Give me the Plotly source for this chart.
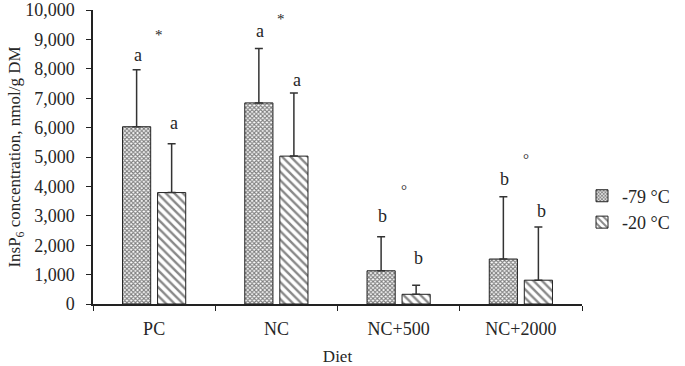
import plotly.graph_objects as go

diets = ["PC", "NC", "NC+500", "NC+2000"]
mean_m79 = [6030, 6840, 1130, 1530]
sd_m79 = [1940, 1850, 1160, 2120]
mean_m20 = [3790, 5030, 330, 810]
sd_m20 = [1660, 2150, 310, 1810]
letters_m79 = ["a", "a", "b", "b"]
letters_m20 = ["a", "a", "b", "b"]
letter_y_m79 = [8480, 9270, 3000, 4250]
letter_y_m20 = [6170, 7630, 1580, 3180]
marks = ["*", "*", "°", "°"]
mark_y = [9160, 9700, 3880, 4940]

FONT = "Liberation Serif"
TXT = "#262626"

fig = go.Figure()
fig.add_trace(go.Bar(
    name="-79 °C", x=diets, y=mean_m79, legendgroup="a",
    marker=dict(color="white", line=dict(color="#222", width=1),
                pattern=dict(shape="x", size=3, solidity=0.6, fgcolor="#000", bgcolor="white", fillmode="overlay")),
    error_y=dict(type="data", array=sd_m79, arrayminus=[0]*4, symmetric=False, color="#333", thickness=1.5, width=4),
))
fig.add_trace(go.Bar(
    name="-20 °C", x=diets, y=mean_m20, legendgroup="b",
    marker=dict(color="white", line=dict(color="#222", width=1),
                pattern=dict(shape="\\", size=6, solidity=0.4, fgcolor="#111", bgcolor="white", fillmode="overlay")),
    error_y=dict(type="data", array=sd_m20, arrayminus=[0]*4, symmetric=False, color="#333", thickness=1.5, width=4),
))

ann = []
for i in range(4):
    ann.append(dict(x=i - 0.135, y=letter_y_m79[i], text=letters_m79[i], xref="x", yref="y",
                    showarrow=False, font=dict(family=FONT, size=18, color=TXT)))
    ann.append(dict(x=i + 0.165, y=letter_y_m20[i], text=letters_m20[i], xref="x", yref="y",
                    showarrow=False, font=dict(family=FONT, size=18, color=TXT)))
    ann.append(dict(x=i + 0.04, y=mark_y[i], text=marks[i], xref="x", yref="y",
                    showarrow=False, font=dict(family=FONT, size=15, color=TXT)))

fig.update_layout(
    width=685, height=366,
    margin=dict(l=93, r=93, t=10, b=62),
    paper_bgcolor="white", plot_bgcolor="white",
    barmode="group", bargap=0.427, bargroupgap=0.196,
    font=dict(family=FONT, size=18, color=TXT),
    showlegend=True,
    legend=dict(x=1.0, y=0.323, xanchor="left", yanchor="middle", font=dict(family=FONT, size=18, color=TXT),
                bgcolor="rgba(0,0,0,0)", tracegroupgap=0),
    annotations=ann,
    xaxis=dict(title=dict(text="Diet", font=dict(family=FONT, size=17, color=TXT), standoff=17),
               showline=True, linecolor="#222", linewidth=1.5, ticks="outside", tickson="boundaries",
               ticklen=5, tickcolor="#222", showgrid=False, automargin=False, ticklabelstandoff=8,
               tickfont=dict(family=FONT, size=18, color=TXT)),
    yaxis=dict(title=dict(text="InsP<sub>6</sub> concentration, nmol/g DM", font=dict(family=FONT, size=17, color=TXT), standoff=0),
               range=[0, 10000], dtick=1000, tickformat=",", showline=True, linecolor="#222", linewidth=1.5,
               ticks="outside", ticklen=5, tickcolor="#222", showgrid=False, zeroline=False, automargin=False,
               ticklabelstandoff=8, ticklabeloverflow="allow", tickfont=dict(family=FONT, size=18, color=TXT)),
)

fig.write_html("out.html", config={"displayModeBar": False},
               post_script="document.body.style.margin='0';document.body.style.padding='0';")
